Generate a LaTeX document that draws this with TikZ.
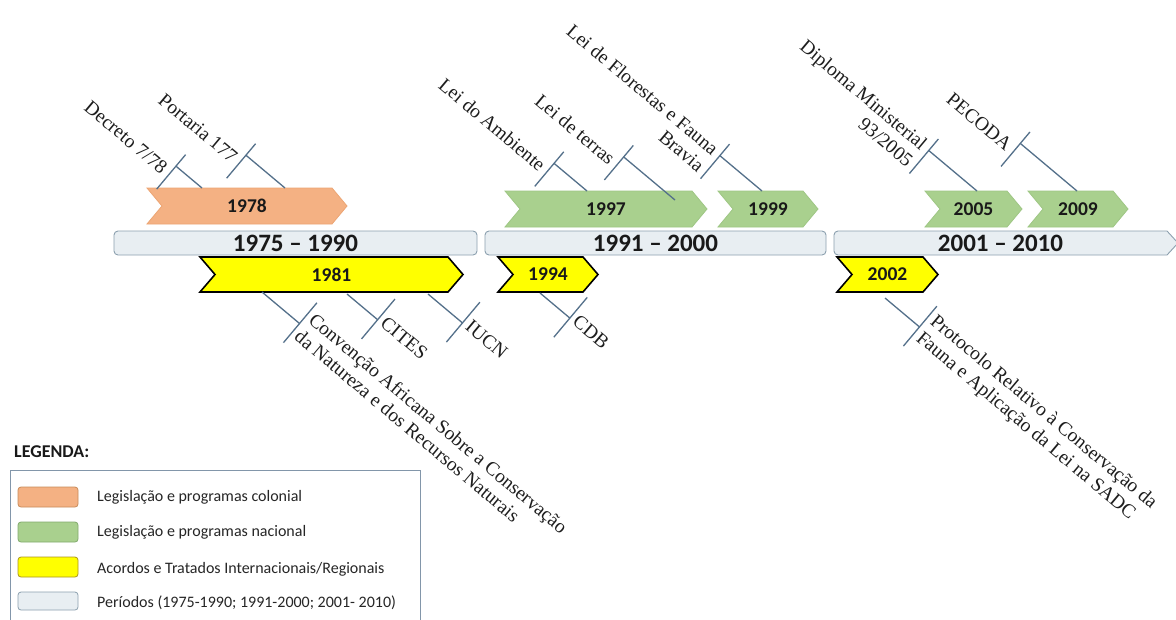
\documentclass[tikz,border=0pt]{standalone}
\usepackage{fontspec}
\setmainfont{Liberation Serif}
\newfontfamily\calib{Carlito}
\usetikzlibrary{calc}
\definecolor{orfill}{RGB}{244,177,131}
\definecolor{ordraw}{RGB}{236,165,115}
\definecolor{grfill}{RGB}{169,208,142}
\definecolor{grdraw}{RGB}{158,198,132}
\definecolor{yefill}{RGB}{255,255,0}
\definecolor{barfill}{RGB}{232,238,242}
\definecolor{bardraw}{RGB}{140,160,175}
\definecolor{conncol}{RGB}{84,112,138}
\definecolor{labcol}{RGB}{30,30,30}
\definecolor{legdraw}{RGB}{130,150,170}
\newcommand\mychev[7]{%
  \path[#6] (#2,#4) -- (#3-15,#4) -- (#3,{(#4+#5)/2}) -- (#3-15,#5) -- (#2,#5) -- (#2+15,{(#4+#5)/2}) -- cycle;
  \node[chevtext] (#1) at ({(#2+#3)/2},{(#4+#5)/2}) {#7};}
\begin{document}
\begin{tikzpicture}[x=1pt,y=-1pt,
  orch/.style={fill=orfill,draw=ordraw,line width=0.8pt},
  grch/.style={fill=grfill,draw=grdraw,line width=0.8pt},
  yech/.style={fill=yefill,draw=black,line width=1.6pt,line join=miter},
  chevtext/.style={font=\calib\bfseries\fontsize{19.5}{22}\selectfont,inner sep=0pt,text=black!90},
  bar/.style={fill=barfill,draw=bardraw,line width=0.9pt,rounded corners=4pt},
  bartext/.style={font=\calib\bfseries\fontsize{25}{28}\selectfont,inner sep=0pt,text=black!90},
  conn/.style={draw=conncol,line width=1.3pt},
  lab/.style={font=\fontsize{19.5}{22}\selectfont,rotate=-40,inner sep=0pt,text=labcol},
  legtext/.style={font=\calib\fontsize{16}{19}\selectfont,inner sep=0pt,anchor=west,text=black!85},
  sw/.style={rounded corners=3pt,line width=0.8pt}
]
\useasboundingbox (0,0) rectangle (1176,619);
\fill[white] (0,0) rectangle (1176,619);

% period bars
\path[bar] (114,231) rectangle (477,255);
\node[bartext] (p1) at (295.5,243) {1975 – 1990};
\path[bar] (485,231) rectangle (826,255);
\node[bartext] (p2) at (655.5,243) {1991 – 2000};
\path[fill=barfill,draw=bardraw,line width=0.9pt] (838,231) -- (1167,231) -- (1178,243) -- (1167,255) -- (838,255) arc[start angle=90,end angle=180,radius=4] -- (834,235) arc[start angle=180,end angle=270,radius=4] -- cycle;
\node[bartext] (p3) at (1000.5,243) {2001 – 2010};

% chevrons
\mychev{c1978}{147}{347}{188}{224}{orch}{1978}
\mychev{c1997}{505}{707}{191}{227}{grch}{1997}
\mychev{c1999}{718}{818}{191}{227}{grch}{1999}
\mychev{c2005}{925}{1022}{191}{227}{grch}{2005}
\mychev{c2009}{1028}{1128}{191}{227}{grch}{2009}
\mychev{c1981}{200}{463}{257}{292}{yech}{1981}
\mychev{c1994}{498}{598}{257}{292}{yech}{1994}
\mychev{c2002}{837}{938}{257}{292}{yech}{2002}

% above labels
\coordinate (sA) at (202,188);  \coordinate (jA) at ($(sA)+(220:34)$);
\coordinate (sB) at (285,188);  \coordinate (jB) at ($(sB)+(220:51)$);
\coordinate (sC) at (587,191);  \coordinate (jC) at ($(sC)+(220:43)$);
\coordinate (sD) at (675,200);  \coordinate (jD) at ($(sD)+(220:67)$);
\coordinate (sE) at (762,191);  \coordinate (jE) at ($(sE)+(220:55)$);
\coordinate (sF) at (977,191);  \coordinate (jF) at ($(sF)+(220:63)$);
\coordinate (sG) at (1077,191); \coordinate (jG) at ($(sG)+(220:74)$);
\foreach \k in {A,B,C,D,E,F,G}{
  \draw[conn] (s\k) -- (j\k);
  \draw[conn] ($(j\k)+(130:30)$) -- ($(j\k)+(310:15)$);
}
\node[lab,anchor=east] (lA) at ($(jA)+(130:10)+(220:6)$) {Decreto 7/78};
\node[lab,anchor=east] (lB) at ($(jB)+(130:10)+(220:6)$) {Portaria 177};
\node[lab,anchor=east] (lC) at ($(jC)+(130:10)+(220:6)$) {Lei do Ambiente};
\node[lab,anchor=east] (lD) at ($(jD)+(130:10)+(220:6)$) {Lei de terras};
\node[lab,anchor=east,align=right] (lE) at ($(jE)+(130:10)+(220:6)$) {Lei de Florestas e Fauna\\Bravia};
\node[lab,anchor=east,align=right] (lF) at ($(jF)+(130:10)+(220:6)$) {Diploma Ministerial\\93/2005};
\node[lab,anchor=east] (lG) at ($(jG)+(130:10)+(220:6)$) {PECODA};

% below labels
\coordinate (sH) at (262,292); \coordinate (jH) at ($(sH)+(40:49)$);
\coordinate (sI) at (347,294); \coordinate (jI) at ($(sI)+(40:40)$);
\coordinate (sJ) at (428,294); \coordinate (jJ) at ($(sJ)+(40:45)$);
\coordinate (sK) at (540,293); \coordinate (jK) at ($(sK)+(40:39)$);
\coordinate (sL) at (885,298); \coordinate (jL) at ($(sL)+(40:45)$);
\foreach \k in {H,I,J,K,L}{
  \draw[conn] (s\k) -- (j\k);
  \draw[conn] ($(j\k)+(310:27)$) -- ($(j\k)+(130:25)$);
}
\node[lab,anchor=west,align=left] (lH) at ($(jH)+(310:2)+(40:5)$) {Convenção Africana Sobre a Conservação\\da Natureza e dos Recursos Naturais};
\node[lab,anchor=west] (lI) at ($(jI)+(310:3)+(40:5)$) {CITES};
\node[lab,anchor=west] (lJ) at ($(jJ)+(310:3)+(40:5)$) {IUCN};
\node[lab,anchor=west] (lK) at ($(jK)+(310:3)+(40:5)$) {CDB};
\node[lab,anchor=west,align=left] (lL) at ($(jL)+(310:3)+(40:5)$) {Protocolo Relativo à Conservação da\\Fauna e Aplicação da Lei na SADC};

% legend
\node[anchor=west,inner sep=0pt,font=\calib\bfseries\fontsize{18}{21}\selectfont,text=black!90] (legt) at (14,452) {LEGENDA:};
\draw[draw=legdraw,line width=0.9pt] (10,625) -- (10,470) -- (420,470) -- (420,625);
\path[sw,fill=orfill,draw={rgb,255:red,200;green,140;blue,90}] (18,487) rectangle (78,507);
\path[sw,fill=grfill,draw={rgb,255:red,130;green,170;blue,110}] (18,522) rectangle (78,542);
\path[sw,fill=yefill,draw={rgb,255:red,170;green,150;blue,30}] (18,557) rectangle (78,577);
\path[sw,fill=barfill,draw=bardraw] (18,592) rectangle (78,610);
\node[legtext] (g1) at (97,497) {Legislação e programas colonial};
\node[legtext] (g2) at (97,532) {Legislação e programas nacional};
\node[legtext] (g3) at (97,569) {Acordos e Tratados Internacionais/Regionais};
\node[legtext] (g4) at (97,603) {Períodos (1975-1990; 1991-2000; 2001- 2010)};
\end{tikzpicture}
\end{document}
